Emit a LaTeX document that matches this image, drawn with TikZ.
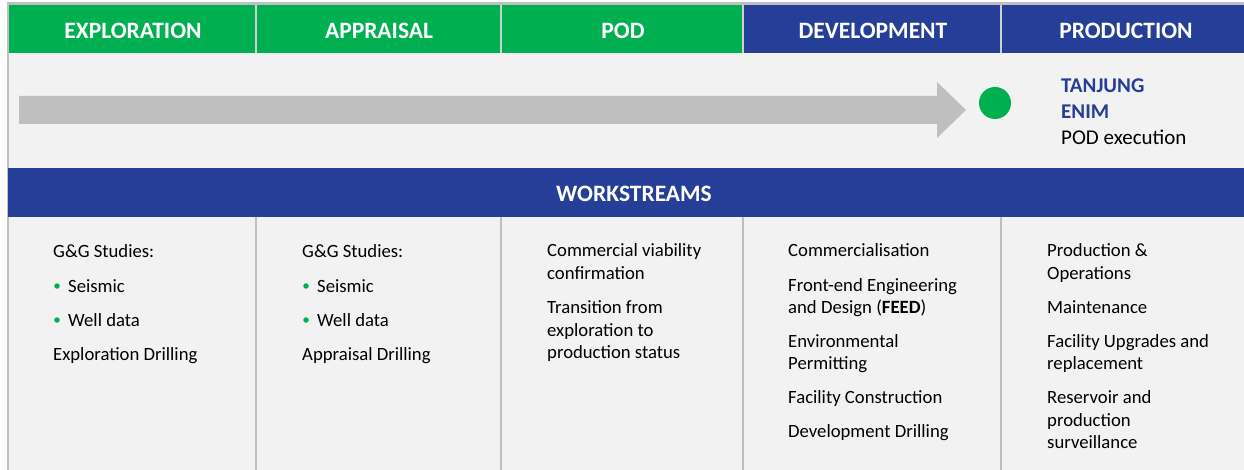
\documentclass[tikz,border=0pt]{standalone}
\usepackage{fontspec}
\setmainfont{Carlito}
\definecolor{hgreen}{HTML}{00B050}
\definecolor{hblue}{HTML}{253F98}
\definecolor{bggray}{HTML}{F2F2F2}
\definecolor{arrowgray}{HTML}{BFBFBF}
\definecolor{linegray}{HTML}{BFBFBF}
\definecolor{headsepgray}{HTML}{D0D0D0}
\begin{document}
\begin{tikzpicture}[x=1pt,y=-1pt,
  headtxt/.style={font=\fontsize{23.5}{28}\selectfont\bfseries, text=white, inner sep=0pt, anchor=base},
  bodytxt/.style={font=\fontsize{18.7}{22.5}\selectfont, text=black, inner sep=0pt, anchor=base west},
  tjtxt/.style={font=\fontsize{21}{26}\selectfont\bfseries, text=hblue, inner sep=0pt, anchor=base west},
  podtxt/.style={font=\fontsize{21}{26}\selectfont, text=black, inner sep=0pt, anchor=base west},
  bulletdot/.style={circle, fill=hgreen, inner sep=0pt, minimum size=5.5pt},
  headsep/.style={draw=headsepgray, line width=1.4pt},
  bodysep/.style={draw=linegray, line width=2pt}]
\useasboundingbox (0,0) rectangle (1244,470);
\fill[white] (0,0) rectangle (1244,470);
% frame and backgrounds
\fill[bggray] (8,5) rectangle (1244,470);
\fill[linegray] (7,2.5) rectangle (1244,5);
\fill[linegray] (6.5,2.5) rectangle (8.5,470);
% header band
\fill[hgreen] (8.5,5) rectangle (743,53);
\fill[hblue] (743,5) rectangle (1244,53);
\foreach \xs in {256,501,743,1001} \draw[headsep] (\xs,5) -- (\xs,53);
\node[headtxt] (h1) at (133,38.8) {EXPLORATION};
\node[headtxt] (h2) at (379,38.8) {APPRAISAL};
\node[headtxt] (h3) at (623,38.8) {POD};
\node[headtxt] (h4) at (873,38.8) {DEVELOPMENT};
\node[headtxt] (h5) at (1126,38.8) {PRODUCTION};
% timeline arrow
\fill[arrowgray] (19,96) -- (937,96) -- (937,82) -- (966,110) -- (937,138) -- (937,124) -- (19,124) -- cycle;
\fill[hgreen] (995,103) circle (16);
\node[tjtxt] (tj1) at (1061,92.8) {TANJUNG};
\node[tjtxt] (tj2) at (1061,118.8) {ENIM};
\node[podtxt] (tj3) at (1061,144.8) {POD execution};
% workstreams band
\fill[hblue] (7.5,168) rectangle (1244,217);
\node[headtxt] (ws) at (634,201.3) {WORKSTREAMS};
% body separators
\foreach \xs in {256,501,743,1001} \draw[bodysep] (\xs,217) -- (\xs,470);
% column 1
\node[bodytxt] (c1a) at (53,258) {G\&G Studies:};
\node[bulletdot] (c1b0) at (57,286) {};
\node[bodytxt] (c1b) at (68,292) {Seismic};
\node[bulletdot] (c1c0) at (57,320) {};
\node[bodytxt] (c1c) at (68,326) {Well data};
\node[bodytxt] (c1d) at (53,360) {Exploration Drilling};
% column 2
\node[bodytxt] (c2a) at (302,258) {G\&G Studies:};
\node[bulletdot] (c2b0) at (306,286) {};
\node[bodytxt] (c2b) at (317,292) {Seismic};
\node[bulletdot] (c2c0) at (306,320) {};
\node[bodytxt] (c2c) at (317,326) {Well data};
\node[bodytxt] (c2d) at (302,360) {Appraisal Drilling};
% column 3
\node[bodytxt] (c3a) at (547,257) {Commercial viability};
\node[bodytxt] (c3b) at (547,279.5) {confirmation};
\node[bodytxt] (c3c) at (547,313.7) {Transition from};
\node[bodytxt] (c3d) at (547,336.2) {exploration to};
\node[bodytxt] (c3e) at (547,358.7) {production status};
% column 4
\node[bodytxt] (c4a) at (788,257) {Commercialisation};
\node[bodytxt] (c4b) at (788,291.3) {Front-end Engineering};
\node[bodytxt] (c4c) at (788,313.8) {and Design (\textbf{FEED})};
\node[bodytxt] (c4d) at (788,347.2) {Environmental};
\node[bodytxt] (c4e) at (788,369.7) {Permitting};
\node[bodytxt] (c4f) at (788,403.7) {Facility Construction};
\node[bodytxt] (c4g) at (788,437.3) {Development Drilling};
% column 5
\node[bodytxt] (c5a) at (1047,257) {Production \&};
\node[bodytxt] (c5b) at (1047,279.5) {Operations};
\node[bodytxt] (c5c) at (1047,313.8) {Maintenance};
\node[bodytxt] (c5d) at (1047,347.2) {Facility Upgrades and};
\node[bodytxt] (c5e) at (1047,369.7) {replacement};
\node[bodytxt] (c5f) at (1047,403.7) {Reservoir and};
\node[bodytxt] (c5g) at (1047,426.2) {production};
\node[bodytxt] (c5h) at (1047,448.7) {surveillance};
\end{tikzpicture}
\end{document}
